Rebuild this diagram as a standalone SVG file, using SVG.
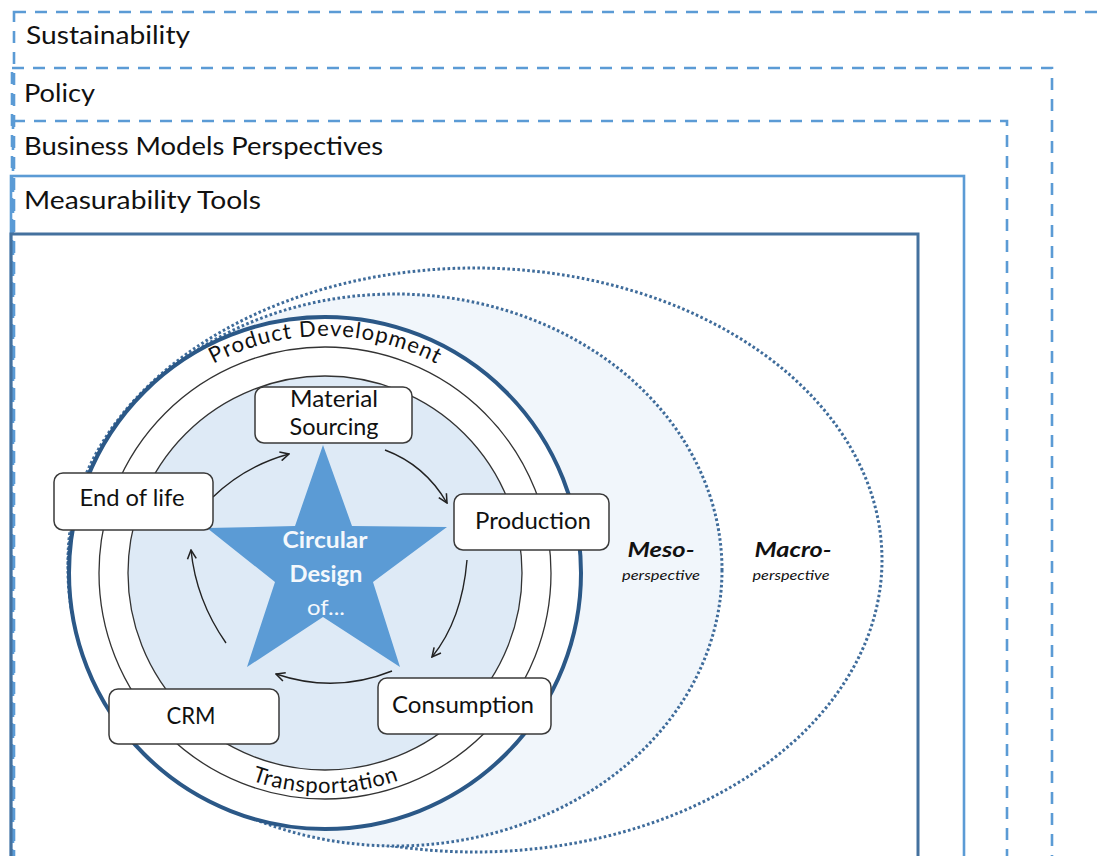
<svg xmlns="http://www.w3.org/2000/svg" width="1097" height="856" viewBox="0 0 1097 856">
<style>
.frame{fill:none;stroke:#5b9bd5;stroke-width:2.6}
.dash{stroke-dasharray:12 9}
.inner{fill:none;stroke:#44719e;stroke-width:3}
.lbl{font-family:Lato,"Liberation Sans",sans-serif;fill:#111;font-size:25px}
.box rect{fill:#fff;stroke:#3a3a3a;stroke-width:1.5}
.box text{font-family:Lato,"Liberation Sans",sans-serif;font-size:23px;fill:#111;text-anchor:middle}
.dot{stroke:#3f6c9b;stroke-width:3;stroke-dasharray:2.6 2.4}
.arr{fill:none;stroke:#222;stroke-width:1.4;marker-end:url(#ah)}
.ring{fill:none;stroke:#333;stroke-width:1.3}
.star text{font-family:Lato,"Liberation Sans",sans-serif;fill:#f4f8fc;text-anchor:middle;font-size:22px}
.persp{font-family:Lato,"Liberation Sans",sans-serif;fill:#111;font-style:italic;text-anchor:middle}
.arc{font-family:Lato,"Liberation Sans",sans-serif;fill:#111;font-size:22px}
</style>
<defs>
<marker id="ah" viewBox="0 0 10 10" refX="9" refY="5" markerWidth="11" markerHeight="11" markerUnits="userSpaceOnUse" orient="auto">
<path d="M1,1 L9,5 L1,9" fill="none" stroke="#222" stroke-width="1.4"/>
</marker>
<path id="pdPath" d="M 118.9 455 A 238 238 0 0 1 531.1 455"/>
<path id="trPath" d="M 135.3 683.5 A 219 219 0 0 0 514.7 683.5"/>
</defs>
<rect width="1097" height="856" fill="#fff"/>

<g id="frame-sustainability">
<rect class="frame dash" x="14" y="12" width="1100" height="900"/>
<text class="lbl" x="26" y="44" textLength="164" lengthAdjust="spacingAndGlyphs">Sustainability</text>
</g>
<g id="frame-policy">
<rect class="frame dash" x="12" y="68" width="1040" height="900"/>
<text class="lbl" x="24" y="102" textLength="71" lengthAdjust="spacingAndGlyphs">Policy</text>
</g>
<g id="frame-business">
<rect class="frame dash" x="13" y="121" width="994" height="900"/>
<text class="lbl" x="24" y="155" textLength="359" lengthAdjust="spacingAndGlyphs">Business Models Perspectives</text>
</g>
<g id="frame-measurability">
<rect class="frame" x="11" y="176" width="953" height="900"/>
<text class="lbl" x="24" y="209" textLength="237" lengthAdjust="spacingAndGlyphs">Measurability Tools</text>
</g>
<g id="frame-inner">
<rect class="inner" x="11" y="234" width="907" height="900"/>
</g>

<g id="macro">
<ellipse class="dot" cx="475" cy="560" rx="407" ry="292" fill="#fff"/>
<text class="persp" x="793" y="557" font-size="21" font-weight="bold" textLength="77" lengthAdjust="spacingAndGlyphs">Macro-</text>
<text class="persp" x="791" y="580" font-size="13" textLength="77" lengthAdjust="spacingAndGlyphs">perspective</text>
</g>
<g id="meso">
<ellipse class="dot" cx="395" cy="570" rx="327" ry="276" fill="#f1f6fb"/>
<text class="persp" x="661" y="557" font-size="21" font-weight="bold" textLength="67" lengthAdjust="spacingAndGlyphs">Meso-</text>
<text class="persp" x="661" y="580" font-size="13" textLength="78" lengthAdjust="spacingAndGlyphs">perspective</text>
</g>

<g id="product-development">
<circle cx="325" cy="573" r="256" fill="#fff" stroke="#2b5887" stroke-width="4"/>
<circle class="ring" cx="325" cy="573" r="226"/>
<text class="arc"><textPath href="#pdPath" startOffset="50%" text-anchor="middle" textLength="232" lengthAdjust="spacing">Product Development</textPath></text>
</g>
<g id="transportation">
<circle cx="325" cy="573" r="197" fill="#deeaf6" stroke="#333" stroke-width="1.3"/>
<text class="arc"><textPath href="#trPath" startOffset="50%" text-anchor="middle" textLength="150" lengthAdjust="spacing">Transportation</textPath></text>
</g>

<g id="star" class="star">
<polygon points="323,445 352,526 447,527 373,582 400,667 323,617 247,667 275,582 207,528 295,526" fill="#5b9bd5"/>
<text x="325" y="548" font-weight="bold" textLength="85" lengthAdjust="spacingAndGlyphs">Circular</text>
<text x="326" y="582" font-weight="bold" textLength="73" lengthAdjust="spacingAndGlyphs">Design</text>
<text x="326" y="615" textLength="38" lengthAdjust="spacingAndGlyphs">of...</text>
</g>

<g id="connectors">
<path class="arr" d="M213,497 Q245,466 289,454"/>
<path class="arr" d="M385,450 Q425,465 447,503"/>
<path class="arr" d="M467,560 Q462,620 432,657"/>
<path class="arr" d="M392,671 Q335,694 276,674"/>
<path class="arr" d="M226,643 Q196,600 191,550"/>
</g>

<g id="material-sourcing" class="box">
<rect x="255" y="387" width="157" height="56" rx="9"/>
<text x="334" y="407" textLength="88" lengthAdjust="spacingAndGlyphs">Material</text>
<text x="334" y="435" textLength="89" lengthAdjust="spacingAndGlyphs">Sourcing</text>
</g>
<g id="production" class="box">
<rect x="454" y="494" width="155" height="56" rx="9"/>
<text x="533" y="529" textLength="116" lengthAdjust="spacingAndGlyphs">Production</text>
</g>
<g id="consumption" class="box">
<rect x="378" y="678" width="173" height="56" rx="9"/>
<text x="463" y="713" textLength="142" lengthAdjust="spacingAndGlyphs">Consumption</text>
</g>
<g id="crm" class="box">
<rect x="109" y="689" width="170" height="55" rx="9"/>
<text x="191" y="724" textLength="49" lengthAdjust="spacingAndGlyphs">CRM</text>
</g>
<g id="end-of-life" class="box">
<rect x="54" y="473" width="159" height="57" rx="9"/>
<text x="132" y="506" textLength="105" lengthAdjust="spacingAndGlyphs">End of life</text>
</g>
</svg>
